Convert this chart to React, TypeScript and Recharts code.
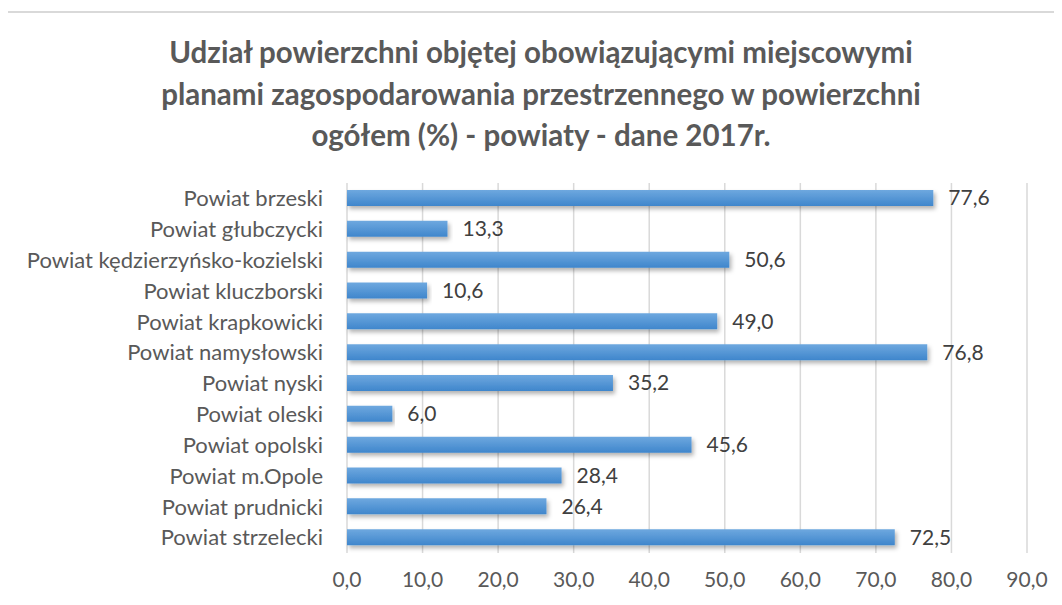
import React from 'react';
import { BarChart, Bar, XAxis, YAxis, CartesianGrid, LabelList } from 'recharts';

const counties = [
  'Powiat brzeski',
  'Powiat głubczycki',
  'Powiat kędzierzyńsko-kozielski',
  'Powiat kluczborski',
  'Powiat krapkowicki',
  'Powiat namysłowski',
  'Powiat nyski',
  'Powiat oleski',
  'Powiat opolski',
  'Powiat m.Opole',
  'Powiat prudnicki',
  'Powiat strzelecki',
];

const shares = [77.6, 13.3, 50.6, 10.6, 49.0, 76.8, 35.2, 6.0, 45.6, 28.4, 26.4, 72.5];

const xTicks = [0, 10, 20, 30, 40, 50, 60, 70, 80, 90];

const titleLines = [
  'Udział powierzchni objętej obowiązującymi miejscowymi',
  'planami zagospodarowania przestrzennego w powierzchni',
  'ogółem (%) - powiaty - dane 2017r.',
];

const data = counties.map((name, i) => ({ name, value: shares[i] }));

const fmt = (v: number) => v.toFixed(1).replace('.', ',');

const FONT = 'Lato, "Noto Sans", sans-serif';

export default function App() {
  return (
    <div
      style={{
        position: 'relative',
        width: 1062,
        height: 605,
        margin: -8,
        overflow: 'hidden',
        background: '#fff',
        fontFamily: FONT,
      }}
    >
      <div
        style={{
          position: 'absolute',
          left: 3,
          top: 11,
          width: 1200,
          height: 800,
          border: '2px solid #d9d9d9',
        }}
      />
      <div
        style={{
          position: 'absolute',
          left: 0,
          top: 31,
          width: 1082,
          textAlign: 'center',
          fontSize: 29.5,
          fontWeight: 700,
          color: '#595959',
          lineHeight: '41.5px',
        }}
      >
        {titleLines.map((l) => (
          <div key={l}>{l}</div>
        ))}
      </div>
      <div style={{ position: 'absolute', left: 0, top: 0 }}>
        <BarChart
          width={1062}
          height={605}
          data={data}
          layout="vertical"
          margin={{ top: 183, right: 35, bottom: 22, left: 0 }}
          barSize={16}
        >
          <defs>
            <linearGradient id="barFill" x1="0" y1="0" x2="0" y2="1">
              <stop offset="0%" stopColor="#6ea8df" />
              <stop offset="100%" stopColor="#3f86cc" />
            </linearGradient>
            <filter id="barShadow" x="-5%" y="-50%" width="110%" height="220%">
              <feDropShadow dx="2" dy="3" stdDeviation="2" floodColor="#000" floodOpacity="0.3" />
            </filter>
          </defs>
          <CartesianGrid horizontal={false} stroke="#d9d9d9" strokeWidth={1.5} />
          <XAxis
            type="number"
            domain={[0, 90]}
            ticks={xTicks}
            tickFormatter={fmt}
            axisLine={false}
            tickLine={false}
            tickMargin={13}
            height={30}
            tick={{ fill: '#595959', fontSize: 21, fontFamily: FONT }}
          />
          <YAxis
            type="category"
            dataKey="name"
            width={347}
            axisLine={false}
            tickLine={false}
            tickMargin={18}
            interval={0}
            tick={{ fill: '#595959', fontSize: 22, fontFamily: FONT }}
          />
          <Bar dataKey="value" fill="url(#barFill)" filter="url(#barShadow)" isAnimationActive={false}>
            <LabelList
              dataKey="value"
              position="right"
              offset={15}
              formatter={(v: any) => fmt(Number(v))}
              fill="#404040"
              fontSize={21}
              fontFamily={FONT}
            />
          </Bar>
        </BarChart>
      </div>
    </div>
  );
}
